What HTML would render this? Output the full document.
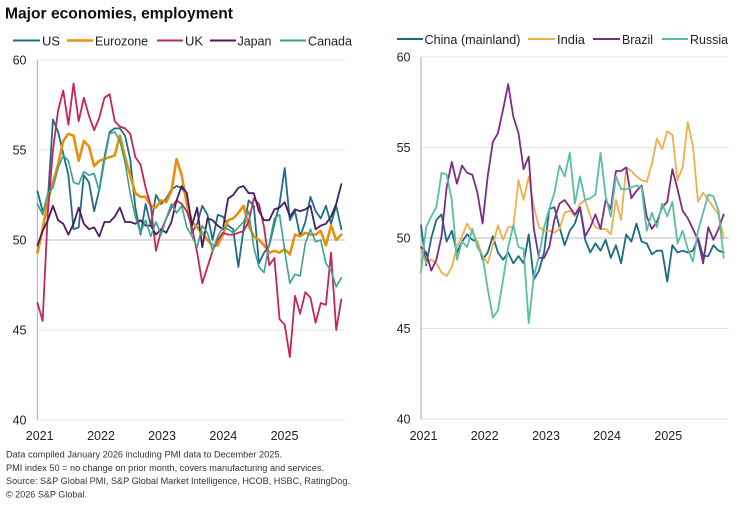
<!DOCTYPE html>
<html><head><meta charset="utf-8"><style>
html,body{margin:0;padding:0;background:#fff;}
svg{display:block;font-family:"Liberation Sans",Arial,sans-serif;}
</style></head><body>
<svg width="751" height="506" viewBox="0 0 751 506" xmlns="http://www.w3.org/2000/svg">
<rect width="751" height="506" fill="#fff"/>
<text x="5" y="18.5" font-size="16" font-weight="bold" fill="#111" textLength="228" lengthAdjust="spacingAndGlyphs">Major economies, employment</text>

<!-- left legend -->
<g font-size="13" fill="#222">
<line x1="13" y1="40.5" x2="40" y2="40.5" stroke="#1f6e86" stroke-width="2"/><text x="42" y="45.5">US</text>
<line x1="67" y1="40.5" x2="93" y2="40.5" stroke="#e8900e" stroke-width="2.6"/><text x="95" y="45.5" textLength="53" lengthAdjust="spacingAndGlyphs">Eurozone</text>
<line x1="157" y1="40.5" x2="183" y2="40.5" stroke="#c6245c" stroke-width="2"/><text x="185" y="45.5">UK</text>
<line x1="210" y1="40.5" x2="236" y2="40.5" stroke="#4a1d5e" stroke-width="2"/><text x="237.5" y="45.5" textLength="34" lengthAdjust="spacingAndGlyphs">Japan</text>
<line x1="280" y1="40.5" x2="306" y2="40.5" stroke="#3aa58c" stroke-width="2"/><text x="308" y="45.5" textLength="44" lengthAdjust="spacingAndGlyphs">Canada</text>
</g>
<!-- right legend -->
<g font-size="13" fill="#222">
<line x1="397" y1="39" x2="423" y2="39" stroke="#1b6a84" stroke-width="2"/><text x="424.5" y="44" textLength="96" lengthAdjust="spacingAndGlyphs">China (mainland)</text>
<line x1="528" y1="39" x2="555" y2="39" stroke="#f2ae4a" stroke-width="2"/><text x="557" y="44" textLength="28" lengthAdjust="spacingAndGlyphs">India</text>
<line x1="593" y1="39" x2="620" y2="39" stroke="#7d2b8b" stroke-width="2"/><text x="622" y="44" textLength="31" lengthAdjust="spacingAndGlyphs">Brazil</text>
<line x1="662" y1="39" x2="688" y2="39" stroke="#58bfa3" stroke-width="2"/><text x="690" y="44" textLength="38" lengthAdjust="spacingAndGlyphs">Russia</text>
</g>

<!-- left axes -->
<g stroke="#e4e4e4" stroke-width="1">
<line x1="37" y1="60" x2="345" y2="60"/>
<line x1="37" y1="150" x2="345" y2="150"/>
<line x1="37" y1="330" x2="345" y2="330"/>
<line x1="37" y1="420" x2="345" y2="420"/>
</g>
<line x1="37" y1="240" x2="345" y2="240" stroke="#bdbdbd" stroke-width="1"/>
<line x1="37.3" y1="60" x2="37.3" y2="420" stroke="#a8a8a8" stroke-width="1"/>
<g font-size="12.5" fill="#222" text-anchor="end">
<text x="26.5" y="64.5">60</text><text x="26.5" y="154.5">55</text><text x="26.5" y="244.5">50</text><text x="26.5" y="334.5">45</text><text x="26.5" y="424.5">40</text>
</g>
<g font-size="12.5" fill="#222" text-anchor="middle">
<text x="39.7" y="440">2021</text><text x="101" y="440">2022</text><text x="162" y="440">2023</text><text x="223.3" y="440">2024</text><text x="284.5" y="440">2025</text>
</g>

<!-- right axes -->
<g stroke="#e4e4e4" stroke-width="1">
<line x1="421" y1="57" x2="729" y2="57"/>
<line x1="421" y1="147.5" x2="729" y2="147.5"/>
<line x1="421" y1="328.5" x2="729" y2="328.5"/>
<line x1="421" y1="419" x2="729" y2="419"/>
</g>
<line x1="421" y1="238" x2="729" y2="238" stroke="#bdbdbd" stroke-width="1"/>
<line x1="421" y1="57" x2="421" y2="419" stroke="#a8a8a8" stroke-width="1"/>
<g font-size="12.5" fill="#222" text-anchor="end">
<text x="410.5" y="61.5">60</text><text x="410.5" y="152">55</text><text x="410.5" y="242.5">50</text><text x="410.5" y="333">45</text><text x="410.5" y="423.5">40</text>
</g>
<g font-size="12.5" fill="#222" text-anchor="middle">
<text x="423.5" y="440">2021</text><text x="484.7" y="440">2022</text><text x="546" y="440">2023</text><text x="607.1" y="440">2024</text><text x="668.3" y="440">2025</text>
</g>

<!-- left series -->
<g transform="matrix(5.15 0 0 -18 37.5 1140)" fill="none" stroke-linejoin="round" stroke-linecap="round">
<polyline vector-effect="non-scaling-stroke" stroke="#1f6e86" stroke-width="1.8" points="0,52.7 1,51.6 2,52.2 3,56.7 4,56.0 5,54.8 6,53.6 7,50.6 8,50.7 9,53.6 10,53.2 11,51.6 12,52.8 13,54.6 14,56.0 15,56.2 16,56.2 17,55.8 18,54.5 19,51.8 20,50.3 21,52.0 22,50.8 23,52.5 24,52.0 25,52.3 26,52.8 27,53.0 28,52.9 29,52.4 30,50.4 31,50.9 32,51.9 33,51.4 34,50.0 35,51.4 36,51.3 37,50.8 38,50.6 39,48.5 40,50.6 41,52.2 42,51.9 43,48.7 44,49.3 45,49.7 46,50.9 47,52.0 48,54.0 49,51.1 50,51.6 51,50.2 52,51.0 53,52.4 54,51.6 55,51.2 56,51.9 57,50.9 58,51.9 59,50.6"/>
<polyline vector-effect="non-scaling-stroke" stroke="#e8900e" stroke-width="2.6" points="0,49.3 1,50.6 2,52.2 3,53.2 4,54.2 5,55.5 6,55.9 7,55.8 8,54.4 9,55.5 10,55.2 11,54.1 12,54.4 13,54.5 14,54.6 15,54.7 16,55.8 17,54.6 18,53.6 19,52.6 20,52.4 21,52.4 22,51.9 23,51.8 24,52.2 25,52.1 26,52.7 27,54.5 28,53.6 29,52.0 30,51.0 31,50.7 32,50.4 33,50.0 34,49.7 35,49.7 36,50.3 37,51.1 38,51.2 39,51.5 40,51.9 41,50.8 42,50.2 43,50.0 44,49.7 45,49.3 46,49.4 47,49.3 48,49.5 49,49.2 50,50.3 51,50.2 52,50.4 53,50.3 54,50.3 55,50.5 56,49.7 57,50.8 58,50.0 59,50.3"/>
<polyline vector-effect="non-scaling-stroke" stroke="#c6245c" stroke-width="1.8" points="0,46.5 1,45.5 2,51.5 3,55.0 4,57.2 5,58.3 6,56.4 7,58.7 8,56.6 9,57.9 10,56.9 11,56.1 12,56.8 13,57.9 14,58.1 15,56.6 16,56.3 17,56.2 18,55.9 19,54.6 20,54.2 21,52.9 22,51.9 23,49.4 24,50.5 25,51.2 26,51.8 27,52.2 28,52.0 29,51.6 30,50.7 31,49.3 32,47.6 33,48.5 34,49.4 35,50.0 36,50.4 37,50.3 38,50.3 39,50.4 40,50.5 41,51.0 42,52.3 43,52.0 44,50.7 45,48.6 46,49.0 47,45.6 48,45.3 49,43.5 50,46.9 51,45.9 52,47.1 53,46.8 54,45.4 55,46.5 56,46.4 57,49.3 58,45.0 59,46.7"/>
<polyline vector-effect="non-scaling-stroke" stroke="#4a1d5e" stroke-width="1.8" points="0,49.7 1,50.5 2,51.1 3,51.9 4,51.1 5,50.9 6,50.3 7,50.9 8,51.8 9,50.9 10,50.6 11,50.7 12,50.2 13,51.0 14,51.0 15,51.3 16,51.8 17,51.0 18,51.0 19,50.9 20,51.1 21,50.8 22,50.8 23,50.3 24,50.6 25,50.4 26,51.0 27,52.2 28,53.0 29,52.6 30,50.8 31,51.8 32,49.6 33,51.2 34,51.1 35,50.8 36,50.6 37,52.3 38,52.5 39,52.9 40,53.0 41,52.6 42,52.6 43,51.6 44,51.1 45,51.1 46,51.7 47,51.8 48,52.1 49,51.3 50,51.7 51,51.6 52,51.7 53,51.9 54,50.6 55,50.8 56,50.9 57,51.3 58,52.0 59,53.1"/>
<polyline vector-effect="non-scaling-stroke" stroke="#3aa58c" stroke-width="1.6" points="0,52.0 1,51.4 2,52.6 3,52.9 4,54.0 5,54.7 6,54.4 7,53.2 8,53.1 9,53.8 10,53.6 11,53.7 12,52.7 13,54.4 14,55.9 15,56.0 16,55.5 17,54.3 18,52.6 19,51.3 20,50.4 21,51.1 22,50.2 23,51.0 24,50.3 25,51.2 26,52.0 27,51.5 28,51.9 29,50.7 30,50.2 31,49.6 32,50.8 33,50.4 34,49.4 35,50.2 36,50.7 37,50.6 38,50.4 39,50.7 40,51.0 41,51.6 42,49.6 43,48.5 44,48.2 45,49.8 46,51.2 47,51.4 48,49.4 49,47.6 50,48.1 51,48.0 52,49.8 53,50.6 54,49.9 55,50.0 56,48.7 57,48.3 58,47.4 59,47.9"/>
</g>

<!-- right series -->
<g transform="matrix(5.13 0 0 -18.1 421 1143)" fill="none" stroke-linejoin="round" stroke-linecap="round">
<polyline vector-effect="non-scaling-stroke" stroke="#1b6a84" stroke-width="1.8" points="0,50.7 1,48.5 2,50.0 3,51.0 4,51.3 5,49.8 6,50.4 7,49.2 8,49.8 9,50.2 10,49.9 11,49.8 12,48.8 13,49.2 14,50.1 15,49.2 16,48.8 17,49.2 18,48.6 19,49.0 20,48.6 21,50.2 22,47.7 23,48.2 24,49.2 25,51.6 26,51.7 27,50.6 28,49.6 29,50.4 30,50.8 31,51.7 32,49.9 33,49.2 34,49.7 35,49.3 36,49.9 37,48.9 38,49.6 39,48.6 40,50.2 41,49.8 42,50.8 43,49.8 44,49.7 45,49.1 46,49.3 47,49.3 48,47.6 49,49.6 50,49.2 51,49.3 52,49.2 53,49.3 54,50.0 55,49.0 56,49.0 57,49.6 58,49.3 59,49.2"/>
<polyline vector-effect="non-scaling-stroke" stroke="#f2ae4a" stroke-width="1.8" points="0,49.4 1,48.6 2,48.8 3,48.6 4,48.1 5,47.9 6,48.4 7,49.5 8,50.1 9,50.8 10,50.3 11,49.8 12,49.0 13,48.6 14,49.6 15,50.7 16,49.9 17,50.6 18,50.6 19,53.2 20,52.1 21,53.4 22,51.7 23,50.6 24,50.4 25,50.4 26,50.3 27,50.5 28,51.4 29,51.5 30,51.2 31,51.9 32,52.1 33,51.2 34,50.6 35,50.5 36,50.5 37,50.2 38,52.1 39,51.0 40,53.9 41,53.7 42,53.4 43,53.2 44,53.1 45,54.1 46,55.5 47,54.9 48,55.9 49,55.7 50,53.2 51,53.9 52,56.4 53,55.1 54,52.0 55,52.5 56,52.1 57,51.7 58,51.3 59,50.0"/>
<polyline vector-effect="non-scaling-stroke" stroke="#7d2b8b" stroke-width="1.8" points="0,49.5 1,49.2 2,48.2 3,48.8 4,50.1 5,52.8 6,54.2 7,53.0 8,54.0 9,53.6 10,53.5 11,52.5 12,50.8 13,53.4 14,55.3 15,55.8 16,57.1 17,58.5 18,56.7 19,55.8 20,53.8 21,54.5 22,50.5 23,48.9 24,48.9 25,49.5 26,51.0 27,51.9 28,52.1 29,51.7 30,51.3 31,51.7 32,50.1 33,50.6 34,51.3 35,50.5 36,52.1 37,51.6 38,53.7 39,53.7 40,53.9 41,52.2 42,52.6 43,52.9 44,51.2 45,50.5 46,50.9 47,51.7 48,52.0 49,53.8 50,52.7 51,51.5 52,51.1 53,50.5 54,49.9 55,48.6 56,50.6 57,49.9 58,50.5 59,51.3"/>
<polyline vector-effect="non-scaling-stroke" stroke="#58bfa3" stroke-width="1.8" points="0,48.1 1,50.6 2,51.2 3,51.7 4,53.6 5,53.5 6,52.1 7,48.8 8,49.8 9,49.5 10,50.5 11,49.5 12,49.0 13,47.2 14,45.6 15,46.0 16,47.7 17,49.5 18,50.7 19,49.5 20,49.4 21,45.3 22,47.9 23,49.0 24,50.6 25,51.6 26,52.5 27,54.0 28,53.4 29,54.7 30,51.9 31,53.4 32,52.1 33,52.2 34,52.4 35,54.7 36,52.3 37,51.2 38,53.4 39,52.7 40,52.7 41,52.8 42,52.9 43,52.8 44,50.4 45,51.4 46,50.6 47,51.9 48,51.2 49,52.0 50,49.7 51,50.4 52,49.4 53,48.7 54,50.4 55,51.4 56,52.4 57,52.3 58,51.5 59,48.9"/>
</g>

<!-- footer -->
<g font-size="9.5" fill="#333">
<text x="6" y="457.5" textLength="276" lengthAdjust="spacingAndGlyphs">Data compiled January 2026 including PMI data to December 2025.</text>
<text x="6" y="470.8" textLength="318" lengthAdjust="spacingAndGlyphs">PMI index 50 = no change on prior month, covers manufacturing and services.</text>
<text x="6" y="484.1" textLength="344" lengthAdjust="spacingAndGlyphs">Source: S&amp;P Global PMI, S&amp;P Global Market Intelligence, HCOB, HSBC, RatingDog.</text>
<text x="6" y="497.4" textLength="81" lengthAdjust="spacingAndGlyphs">© 2026 S&amp;P Global.</text>
</g>
</svg>
</body></html>
